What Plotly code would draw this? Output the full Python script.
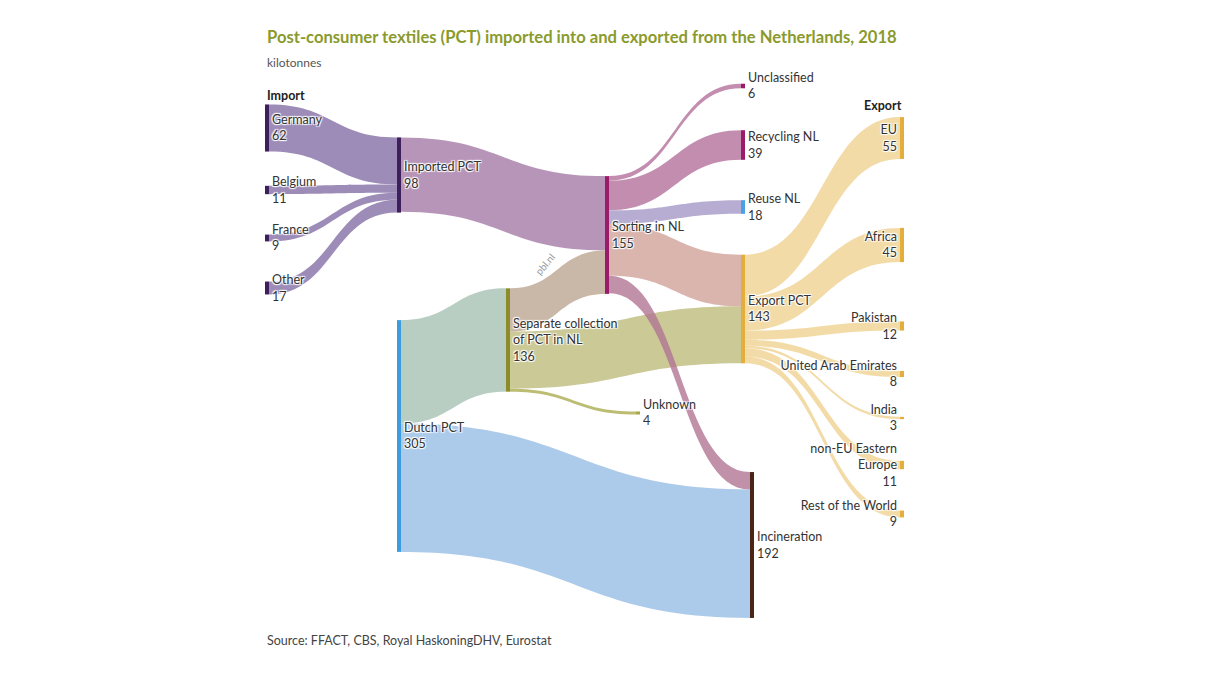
import plotly.graph_objects as go

# ---------------- data ----------------
node_names = [
    "Germany", "Belgium", "France", "Other",            # 0-3 import countries
    "Imported PCT", "Dutch PCT",                         # 4-5
    "Separate collection<br>of PCT in NL",               # 6
    "Sorting in NL",                                     # 7
    "Unknown",                                           # 8
    "Unclassified", "Recycling NL", "Reuse NL",          # 9-11
    "Export PCT", "Incineration",                        # 12-13
    "EU", "Africa", "Pakistan", "United Arab Emirates",  # 14-17
    "India", "non-EU Eastern<br>Europe", "Rest of the World",  # 18-20
]
node_totals = [62, 11, 9, 17, 98, 305, 136, 155, 4, 6, 39, 18, 143, 192,
               55, 45, 12, 8, 3, 11, 9]

link_source = [0, 1, 2, 3, 4, 5, 5, 6, 6, 6, 7, 7, 7, 7, 7,
               12, 12, 12, 12, 12, 12, 12]
link_target = [4, 4, 4, 4, 7, 6, 13, 7, 12, 8, 9, 10, 11, 12, 13,
               14, 15, 16, 17, 18, 19, 20]
link_values = [62, 11, 9, 17, 98, 136, 169, 57, 75, 4, 6, 39, 18, 68, 23,
               55, 45, 12, 8, 3, 11, 9]

# ---------------- layout / style (not data) ----------------
W, H = 1214, 684
OFF = 8  # page body margin offset
dom_left, dom_right, dom_top, dom_bot = 263 - OFF, 907 - OFF, 80 - OFF, 615 - OFF
dw, dh = dom_right - dom_left, dom_bot - dom_top

# node centre positions in (screen) pixels
node_px = [267, 267, 267, 267, 399, 399, 508, 607, 638, 743, 743, 743, 743, 752,
           902, 902, 902, 902, 902, 902, 902]
node_py = [128, 190, 238, 288, 175, 436, 340, 235, 413, 86, 145, 207, 309, 545,
           138, 245, 326, 374, 418, 465, 514]
node_x = [(p - OFF - dom_left) / dw for p in node_px]
node_y = [(p - OFF - dom_top) / dh for p in node_py]

PURPLE = "#3d1f5c"
BLUE = "#3d9be0"
OLIVE = "#8c8c2a"
MAGENTA = "#9b1b6b"
GOLD = "#e3ae3c"
BROWN = "#4a2414"
node_colors = [PURPLE] * 5 + [BLUE, OLIVE, MAGENTA, "#a8a848", MAGENTA, MAGENTA,
                              "#4aa0e0", GOLD, BROWN] + [GOLD] * 7

link_colors = (
    ["rgba(140,120,172,0.85)"] * 4
    + ["rgba(170,130,172,0.85)",          # imported -> sorting
       "rgba(172,198,185,0.85)",          # dutch -> separate
       "rgba(158,194,232,0.85)",          # dutch -> incineration
       "rgba(192,172,152,0.85)",          # separate -> sorting
       "rgba(194,192,132,0.85)",          # separate -> export
       "rgba(176,176,90,0.85)",           # separate -> unknown
       "rgba(180,112,156,0.8)",           # sorting -> unclassified
       "rgba(180,112,156,0.8)",           # sorting -> recycling
       "rgba(165,152,200,0.8)",           # sorting -> reuse
       "rgba(212,168,160,0.85)",          # sorting -> export
       "rgba(176,118,148,0.8)"]           # sorting -> incineration
    + ["rgba(236,204,128,0.7)"] * 7
)

labels = [f"{n}<br>{v}" for n, v in zip(node_names, node_totals)]

fig = go.Figure(go.Sankey(
    arrangement="fixed",
    domain=dict(x=[dom_left / W, dom_right / W], y=[1 - dom_bot / H, 1 - dom_top / H]),
    node=dict(
        label=labels,
        x=node_x,
        y=node_y,
        pad=57,
        thickness=4,
        color=node_colors,
        line=dict(width=0),
        align="left",
    ),
    link=dict(source=link_source, target=link_target, value=link_values,
              color=link_colors),
    textfont=dict(family="Lato", size=12.5, color="#333333"),
))


def px(x):
    return (x - OFF) / W


def py(y):
    return 1 - (y - OFF) / H


TITLE_COLOR = "#8a9a2c"
anns = [
    dict(x=px(265), y=py(37), text="<b>Post-consumer textiles (PCT) imported into and exported from the Netherlands, 2018</b>",
         font=dict(family="Lato", size=16.6, color=TITLE_COLOR), xanchor="left", yanchor="middle"),
    dict(x=px(265), y=py(63), text="kilotonnes",
         font=dict(family="Lato", size=12, color="#555555"), xanchor="left", yanchor="middle"),
    dict(x=px(265), y=py(95), text="<b>Import</b>",
         font=dict(family="Lato", size=12.5, color="#222222"), xanchor="left", yanchor="middle"),
    dict(x=px(904), y=py(105), text="<b>Export</b>",
         font=dict(family="Lato", size=12.5, color="#222222"), xanchor="right", yanchor="middle"),
    dict(x=px(265), y=py(640), text="Source: FFACT, CBS, Royal HaskoningDHV, Eurostat",
         font=dict(family="Lato", size=12.5, color="#444444"), xanchor="left", yanchor="middle"),
    dict(x=px(545), y=py(264), text="pbl.nl", textangle=-50,
         font=dict(family="Lato", size=10, color="#999999"), xanchor="center", yanchor="middle"),
]
for a in anns:
    a.update(xref="paper", yref="paper", showarrow=False)

fig.update_layout(
    width=W, height=H,
    margin=dict(l=0, r=0, t=0, b=0),
    paper_bgcolor="white",
    annotations=anns,
)

fig.write_html("out.html")
